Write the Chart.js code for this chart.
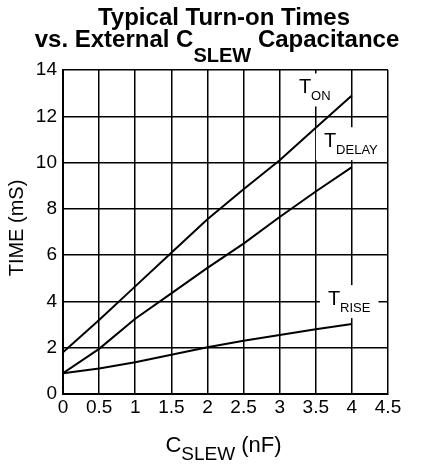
<!DOCTYPE html>
<html>
<head>
<meta charset="utf-8">
<script src="https://cdn.jsdelivr.net/npm/chart.js@4.4.0/dist/chart.umd.min.js"></script>
<style>
  html, body { margin: 0; padding: 0; background: #fff; }
  #wrap { width: 430px; height: 472px; }
</style>
</head>
<body>
<div id="wrap"><canvas id="chart" width="430" height="472"></canvas></div>
<script>
// C_SLEW (nF)
const cSlew = [0, 0.5, 1, 1.5, 2, 2.5, 3, 3.5, 4];
// times (mS)
const tOn    = [1.8, 3.2, 4.65, 6.1, 7.55, 8.85, 10.1, 11.5, 12.9];
const tDelay = [0.9, 1.95, 3.25, 4.35, 5.45, 6.5, 7.65, 8.75, 9.8];
const tRise  = [0.9, 1.1, 1.37, 1.7, 2.02, 2.3, 2.55, 2.8, 3.02];
const seriesSubs = ['ON', 'DELAY', 'RISE'];

const FONT = "'Liberation Sans', Arial, sans-serif";

// label placement relative to the end of each curve (pixels)
const labelOffsets = [
  { dx: -53, dy: -2 },
  { dx: -28, dy: -20 },
  { dx: -24, dy: -19 }
];

function drawParts(ctx, parts, x, y, align) {
  let total = 0;
  parts.forEach(p => { ctx.font = p.font; p.w = ctx.measureText(p.text).width; total += p.w; });
  let cx = align === 'center' ? x - total / 2 : x;
  ctx.textAlign = 'left';
  ctx.textBaseline = 'alphabetic';
  parts.forEach(p => {
    ctx.font = p.font;
    ctx.fillText(p.text, cx, y + (p.dy || 0));
    cx += p.w;
  });
  return total;
}

const textPlugin = {
  id: 'textPlugin',
  beforeDatasetsDraw(chart) {
    const ctx = chart.ctx;
    ctx.save();
    chart.data.datasets.forEach((ds, i) => {
      const meta = chart.getDatasetMeta(i);
      const last = meta.data[meta.data.length - 1];
      const off = labelOffsets[i];
      const x = last.x + off.dx, y = last.y + off.dy;
      ctx.font = '20px ' + FONT;
      const wT = ctx.measureText('T').width;
      ctx.font = '13px ' + FONT;
      const wS = ctx.measureText(seriesSubs[i]).width;
      ctx.fillStyle = '#fff';
      ctx.fillRect(x - 8, y - 20, wT + wS + 16, 33);
    });
    ctx.restore();
  },
  afterDatasetsDraw(chart) {
    const ctx = chart.ctx;
    ctx.save();
    ctx.fillStyle = '#000';
    chart.data.datasets.forEach((ds, i) => {
      const meta = chart.getDatasetMeta(i);
      const last = meta.data[meta.data.length - 1];
      const off = labelOffsets[i];
      drawParts(ctx, [
        { text: 'T', font: '20px ' + FONT },
        { text: seriesSubs[i], font: '13px ' + FONT, dy: 7 }
      ], last.x + off.dx, last.y + off.dy, 'left');
    });
    ctx.restore();
  },
  afterDraw(chart) {
    const ctx = chart.ctx;
    const a = chart.chartArea;
    ctx.save();
    ctx.fillStyle = '#000';
    // title
    drawParts(ctx, [{ text: 'Typical Turn-on Times', font: 'bold 24px ' + FONT }], 224, 25, 'center');
    drawParts(ctx, [
      { text: 'vs. External C', font: 'bold 24px ' + FONT },
      { text: 'SLEW', font: 'bold 20px ' + FONT, dy: 15 },
      { text: ' Capacitance', font: 'bold 24px ' + FONT }
    ], 217, 47, 'center');
    // x axis title
    drawParts(ctx, [
      { text: 'C', font: '22px ' + FONT },
      { text: 'SLEW', font: '19px ' + FONT, dy: 8 },
      { text: ' (nF)', font: '22px ' + FONT }
    ], (a.left + a.right) / 2 - 2, 452, 'center');
    // y axis title
    ctx.translate(23, 228);
    ctx.rotate(-Math.PI / 2);
    drawParts(ctx, [{ text: 'TIME (mS)', font: '20px ' + FONT }], 0, 0, 'center');
    ctx.restore();
  }
};

const lineStyle = { borderColor: '#000', borderWidth: 2, pointRadius: 0, fill: false, tension: 0 };

new Chart(document.getElementById('chart'), {
  type: 'line',
  data: {
    datasets: [
      Object.assign({ label: 'TON', data: cSlew.map((x, i) => ({ x, y: tOn[i] })) }, lineStyle),
      Object.assign({ label: 'TDELAY', data: cSlew.map((x, i) => ({ x, y: tDelay[i] })) }, lineStyle),
      Object.assign({ label: 'TRISE', data: cSlew.map((x, i) => ({ x, y: tRise[i] })) }, lineStyle)
    ]
  },
  options: {
    responsive: false,
    animation: false,
    layout: { padding: { top: 70, right: 42, left: 0, bottom: 0 } },
    plugins: { legend: { display: false }, tooltip: { enabled: false }, title: { display: false } },
    scales: {
      x: {
        type: 'linear', min: 0, max: 4.5,
        afterFit: s => { s.height = 78; },
        grid: { color: '#000', lineWidth: 1.5, drawTicks: false },
        border: { color: '#000', width: 2 },
        ticks: {
          stepSize: 0.5, padding: 2, color: '#000', font: { family: FONT, size: 19 },
          callback: v => String(v)
        }
      },
      y: {
        min: 0, max: 14,
        afterFit: s => { s.width = 63; },
        grid: { color: '#000', lineWidth: 1.5, drawTicks: false },
        border: { color: '#000', width: 2 },
        ticks: { stepSize: 2, padding: 6, color: '#000', font: { family: FONT, size: 19 } }
      }
    }
  },
  plugins: [textPlugin]
});
</script>
</body>
</html>
